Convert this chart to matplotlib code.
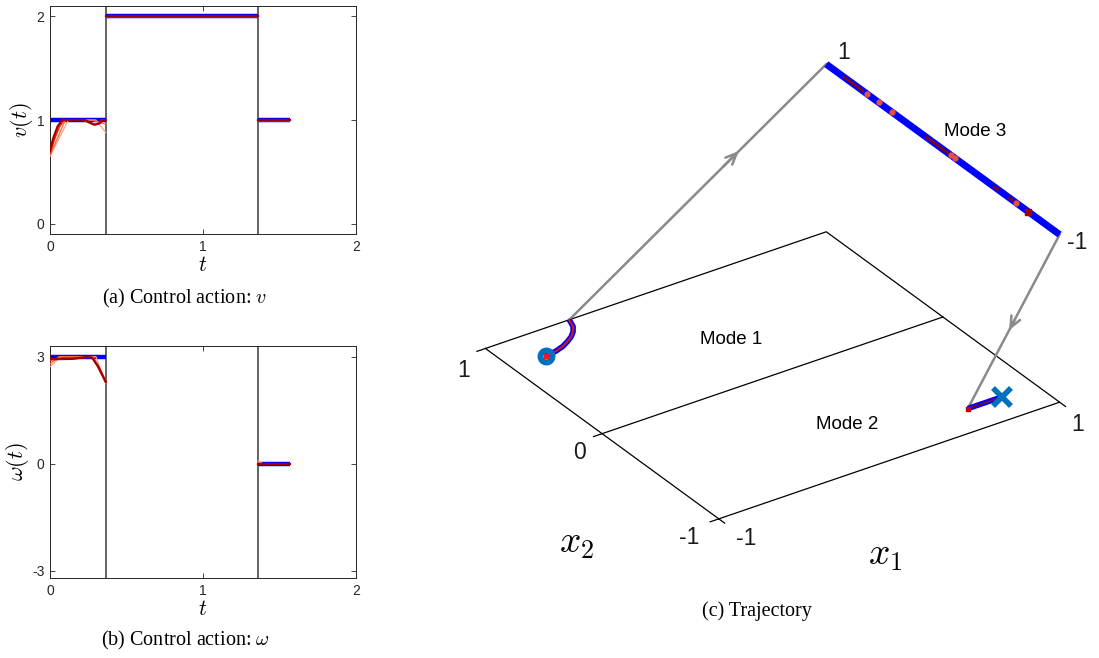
import numpy as np
import matplotlib
matplotlib.use("Agg")
import matplotlib.pyplot as plt
from mpl_toolkits.mplot3d import proj3d

plt.rcParams["axes.unicode_minus"] = False
plt.rcParams["mathtext.fontset"] = "cm"

# ---------------- data: control actions ----------------
t_switch = [0.364, 1.361]
ref_t = [[0.0, 0.364], [0.364, 1.361], [1.361, 1.57]]
v_ref = [1.0, 2.0, 1.0]
w_ref = [3.0, np.nan, 0.0]

iter_colors = ["#FFA27F", "#FF6A40", "#E02A18", "#A00000"]
iter_widths = [0.9, 1.0, 1.3, 1.6]

v1_t = [[0, 0.12, 0.30, 0.364],
        [0, 0.10, 0.27, 0.364],
        [0, 0.03, 0.06, 0.09, 0.22, 0.26, 0.29, 0.32, 0.34, 0.364],
        [0, 0.02, 0.05, 0.08, 0.23, 0.26, 0.29, 0.32, 0.345, 0.364]]
v1_v = [[0.65, 1.0, 1.0, 0.88],
        [0.66, 1.0, 1.0, 0.96],
        [0.68, 0.82, 0.93, 1.0, 1.0, 0.97, 0.955, 0.965, 1.0, 1.0],
        [0.70, 0.82, 0.94, 1.0, 1.0, 0.975, 0.955, 0.965, 0.995, 1.0]]
v2_v = [2.0, 2.0, 2.0, 2.0]
v3_v = [1.0, 1.0, 1.0, 1.0]

w1_t = [[0, 0.07, 0.30, 0.364],
        [0, 0.06, 0.28, 0.33, 0.364],
        [0, 0.05, 0.20, 0.27, 0.32, 0.364],
        [0, 0.03, 0.15, 0.25, 0.28, 0.31, 0.34, 0.364]]
w1_w = [[2.72, 3.0, 3.0, 2.25],
        [2.80, 3.0, 3.0, 2.65, 2.30],
        [2.90, 2.95, 2.97, 3.0, 2.70, 2.28],
        [2.95, 2.93, 2.94, 3.0, 2.95, 2.75, 2.50, 2.30]]
w3_t = [[1.361, 1.39, 1.57], [1.361, 1.38, 1.57], [1.361, 1.57], [1.361, 1.57]]
w3_w = [[0.08, 0.0, 0.0], [0.04, 0.0, 0.0], [0.0, 0.0], [0.0, 0.0]]

# ---------------- data: trajectory ----------------
x1_ticks = [-1, 1]
x2_ticks = [-1, 0, 1]
mode3_z = 1.0
mode3_s = [1.0, -1.0]
traj1_x1 = [-0.80, -0.77, -0.73, -0.68, -0.638, -0.595, -0.559, -0.53, -0.508]
traj1_x2 = [0.777, 0.779, 0.787, 0.805, 0.829, 0.858, 0.893, 0.935, 1.0]
traj2_x1 = [0.598, 0.81]
traj2_x2 = [-0.80, -0.80]
start_pt = (-0.80, 0.777)
target_pt = (0.80, -0.80)
jump1 = [(-0.508, 1.0, 0.0), (1.0, 1.0, 1.0)]
jump2 = [(1.0, -1.0, 1.0), (0.598, -0.80, 0.0)]
mode3_dark_seg = [(0.845, 0.69), (0.14, -0.04), (-0.44, -0.47), (-0.57, -0.60)]
mode3_red_dots = [0.65, 0.55, 0.44, -0.07, -0.10, -0.63]
mode3_dark_dots = [-0.73]

W, H = 1099, 658
fig = plt.figure(figsize=(W / 100, H / 100), dpi=100)


def frac(l, t, r, b):
    return [l / W, 1 - b / H, (r - l) / W, (b - t) / H]


BLUE = "#0000FF"
SANS = "Liberation Sans"


def style(ax, ylim, yticks, ylab):
    ax.set_xlim(0, 2)
    ax.set_ylim(*ylim)
    ax.set_xticks([0, 1, 2])
    ax.set_yticks(yticks)
    ax.tick_params(direction="in", top=True, right=True, length=3.5, width=0.6,
                   labelsize=10, colors="#262626", pad=4)
    for lab in ax.get_xticklabels() + ax.get_yticklabels():
        lab.set_family(SANS)
    for s in ax.spines.values():
        s.set_linewidth(0.7)
        s.set_color("#262626")
    for ts in t_switch:
        ax.axvline(ts, color="#3a3a3a", lw=1.1, zorder=1)
    ax.set_xlabel("$t$", fontsize=15.5, labelpad=1)
    ax.set_ylabel(ylab, fontsize=16, labelpad=1)


# ---- v panel
ax_v = fig.add_axes(frac(50, 6, 356, 234))
for (ta, tb), vr in zip(ref_t, v_ref):
    ax_v.plot([ta, tb], [vr, vr], color=BLUE, lw=3.2, zorder=2, solid_capstyle="butt")
for i in range(4):
    c, lw = iter_colors[i], iter_widths[i]
    ax_v.plot(v1_t[i], v1_v[i], color=c, lw=lw, zorder=3)
    ax_v.plot(ref_t[1], [v2_v[i]] * 2, color=c, lw=lw, zorder=3)
    ax_v.plot(ref_t[2], [v3_v[i]] * 2, color=c, lw=lw, zorder=3)
style(ax_v, (-0.1, 2.1), [0, 1, 2], "$v(t)$")

# ---- omega panel
ax_w = fig.add_axes(frac(50, 346, 356, 578))
for (ta, tb), wr in zip(ref_t, w_ref):
    ax_w.plot([ta, tb], [wr, wr], color=BLUE, lw=3.2, zorder=2, solid_capstyle="butt")
for i in range(4):
    c, lw = iter_colors[i], iter_widths[i]
    ax_w.plot(w1_t[i], w1_w[i], color=c, lw=lw, zorder=3)
    ax_w.plot(w3_t[i], w3_w[i], color=c, lw=lw, zorder=3)
style(ax_w, (-3.2, 3.3), [-3, 0, 3], r"$\omega(t)$")

fig.text(185 / W, 1 - 298 / H, "(a) Control action: $v$", ha="center", va="center",
         family="Liberation Serif", fontsize=14.5)
fig.text(185 / W, 1 - 640 / H, r"(b) Control action: $\omega$", ha="center", va="center",
         family="Liberation Serif", fontsize=14.5)
fig.text(757 / W, 1 - 611 / H, "(c) Trajectory", ha="center", va="center",
         family="Liberation Serif", fontsize=14.5)

# ---------------- 3D trajectory ----------------
S0 = 600.0
ax3 = fig.add_axes([(770 - S0 / 2) / W, (329 - S0 / 2) / H, S0 / W, S0 / H], projection="3d")
ax3.set_proj_type("ortho")
ax3.view_init(elev=30, azim=-124.4)
ax3.set_xlim(-1, 1)
ax3.set_ylim(-1, 1)
ax3.set_zlim(0, 1)
ax3.set_xticks([])
ax3.set_yticks([])
ax3.set_zticks([])
ax3.set_box_aspect((1, 1, 0.4686))
ax3.set_axis_off()

calib_3d = np.array([[-1, -1, 0], [1, -1, 0], [-1, 1, 0], [1, 1, 0], [1, 1, 1], [1, -1, 1]], float)
calib_px = np.array([[718, 518], [1060, 400], [484, 350], [827, 234], [827, 66], [1060, 232]], float)
calib_disp = np.column_stack([calib_px[:, 0], H - calib_px[:, 1]])


def project(ax, pts):
    pts = np.asarray(pts, float)
    xs, ys, _ = proj3d.proj_transform(pts[:, 0], pts[:, 1], pts[:, 2], ax.get_proj())
    return np.column_stack([xs, ys])


for _ in range(2):
    fig.canvas.draw()
    P = ax3.transData.transform(project(ax3, calib_3d))
    pos = ax3.get_position()
    S = pos.width * W
    c = np.array([(pos.x0 + pos.width / 2) * W, (pos.y0 + pos.height / 2) * H])
    Pm, Tm = P.mean(0), calib_disp.mean(0)
    k = np.sum((P - Pm) * (calib_disp - Tm)) / np.sum((P - Pm) ** 2)
    cn = Tm - k * (Pm - c)
    Sn = S * k
    ax3.set_position([(cn[0] - Sn / 2) / W, (cn[1] - Sn / 2) / H, Sn / W, Sn / H])

# plane outline
edge_kw = dict(color="black", lw=0.9, clip_on=False)
ax3.plot([-1, 1, 1, -1, -1], [-1, -1, 1, 1, -1], [0, 0, 0, 0, 0], **edge_kw)
ax3.plot([-1, 1], [0, 0], [0, 0], **edge_kw)
tl = 0.05
for v in x2_ticks:
    ax3.plot([-1, -1 - tl], [v, v], [0, 0], **edge_kw)
for v in x1_ticks:
    ax3.plot([v, v], [-1, -1 - tl], [0, 0], **edge_kw)

tick_font = dict(family=SANS, fontsize=16.5, ha="center", va="center", color="#1a1a1a")
x2_lab_pos = [(-1.223, -1.07), (-1.195, -0.089), (-1.21, 0.884)]
for v, (a, b) in zip(x2_ticks, x2_lab_pos):
    ax3.text(a, b, 0, str(v), **tick_font)
x1_lab_pos = [(-0.998, -1.228), (0.95, -1.227)]
for v, (a, b) in zip(x1_ticks, x1_lab_pos):
    ax3.text(a, b, 0, str(v), **tick_font)
ax3.text(1.133, 1.049, mode3_z, "1", **tick_font)
ax3.text(1.027, -1.114, mode3_z, "-1", **tick_font)

ax3.text(-1.70, -0.80, 0, "$x_2$", fontsize=27, ha="center", va="center")
ax3.text(-0.533, -1.745, 0, "$x_1$", fontsize=27, ha="center", va="center")

mode_font = dict(family=SANS, fontsize=13.5, ha="center", va="center")
ax3.text(0.027, 0.398, 0, "Mode 1", **mode_font)
ax3.text(0.032, -0.594, 0, "Mode 2", **mode_font)
ax3.text(1.226, 0.056, mode3_z, "Mode 3", **mode_font)

GRAY = "#8a8a8a"
for j in (jump1, jump2):
    (xa, ya, za), (xb, yb, zb) = j
    ax3.plot([xa, xb], [ya, yb], [za, zb], color=GRAY, lw=1.8, clip_on=False)

# mode 3
ax3.plot([1, 1], mode3_s, [mode3_z, mode3_z], color=BLUE, lw=5, clip_on=False,
         solid_capstyle="butt")
for a, b in mode3_dark_seg:
    ax3.plot([1, 1], [a, b], [mode3_z, mode3_z], color="#8B0000", lw=1.8, clip_on=False)
ax3.plot([1] * len(mode3_red_dots), mode3_red_dots, [mode3_z] * len(mode3_red_dots), "o",
         color="#E8503A", ms=3.5, clip_on=False)
ax3.plot([1] * len(mode3_dark_dots), mode3_dark_dots, [mode3_z] * len(mode3_dark_dots), "s",
         color="#A00000", ms=4, clip_on=False)

# mode 1 trajectory
ax3.plot(traj1_x1, traj1_x2, [0] * len(traj1_x1), color=BLUE, lw=4, clip_on=False,
         solid_capstyle="butt")
ax3.plot(traj1_x1, traj1_x2, [0] * len(traj1_x1), color="#C81818", lw=1.6, clip_on=False)
# mode 2 trajectory
ax3.plot(traj2_x1, traj2_x2, [0, 0], color=BLUE, lw=4, clip_on=False, solid_capstyle="butt")
ax3.plot(traj2_x1, traj2_x2, [0, 0], color="#7A1020", lw=1.2, clip_on=False)
ax3.plot([traj2_x1[0]], [traj2_x2[0]], [0], "s", color="#C00000", ms=3.5, clip_on=False)

ax3.plot([start_pt[0]], [start_pt[1]], [0], "o", mfc="none", mec="#0072BD", mew=4.3, ms=8.6,
         clip_on=False)
ax3.plot([start_pt[0]], [start_pt[1]], [0], "s", color="#E02020", ms=3, clip_on=False)
ax3.plot([target_pt[0]], [target_pt[1]], [0], "x", color="#0072BD", mew=4, ms=13, clip_on=False)

# arrowheads at the middle of the jumps
fig.canvas.draw()
for j, f in ((jump1, 0.66), (jump2, 0.55)):
    a, b = np.array(j[0]), np.array(j[1])
    p = project(ax3, [a + (b - a) * (f - 0.06), a + (b - a) * f])
    ax3.annotate("", xy=p[1], xytext=p[0], xycoords="data",
                 arrowprops=dict(arrowstyle="->,head_length=0.8,head_width=0.35",
                                 color=GRAY, lw=1.8, shrinkA=0, shrinkB=0))

fig.savefig("out.png", dpi=100)
